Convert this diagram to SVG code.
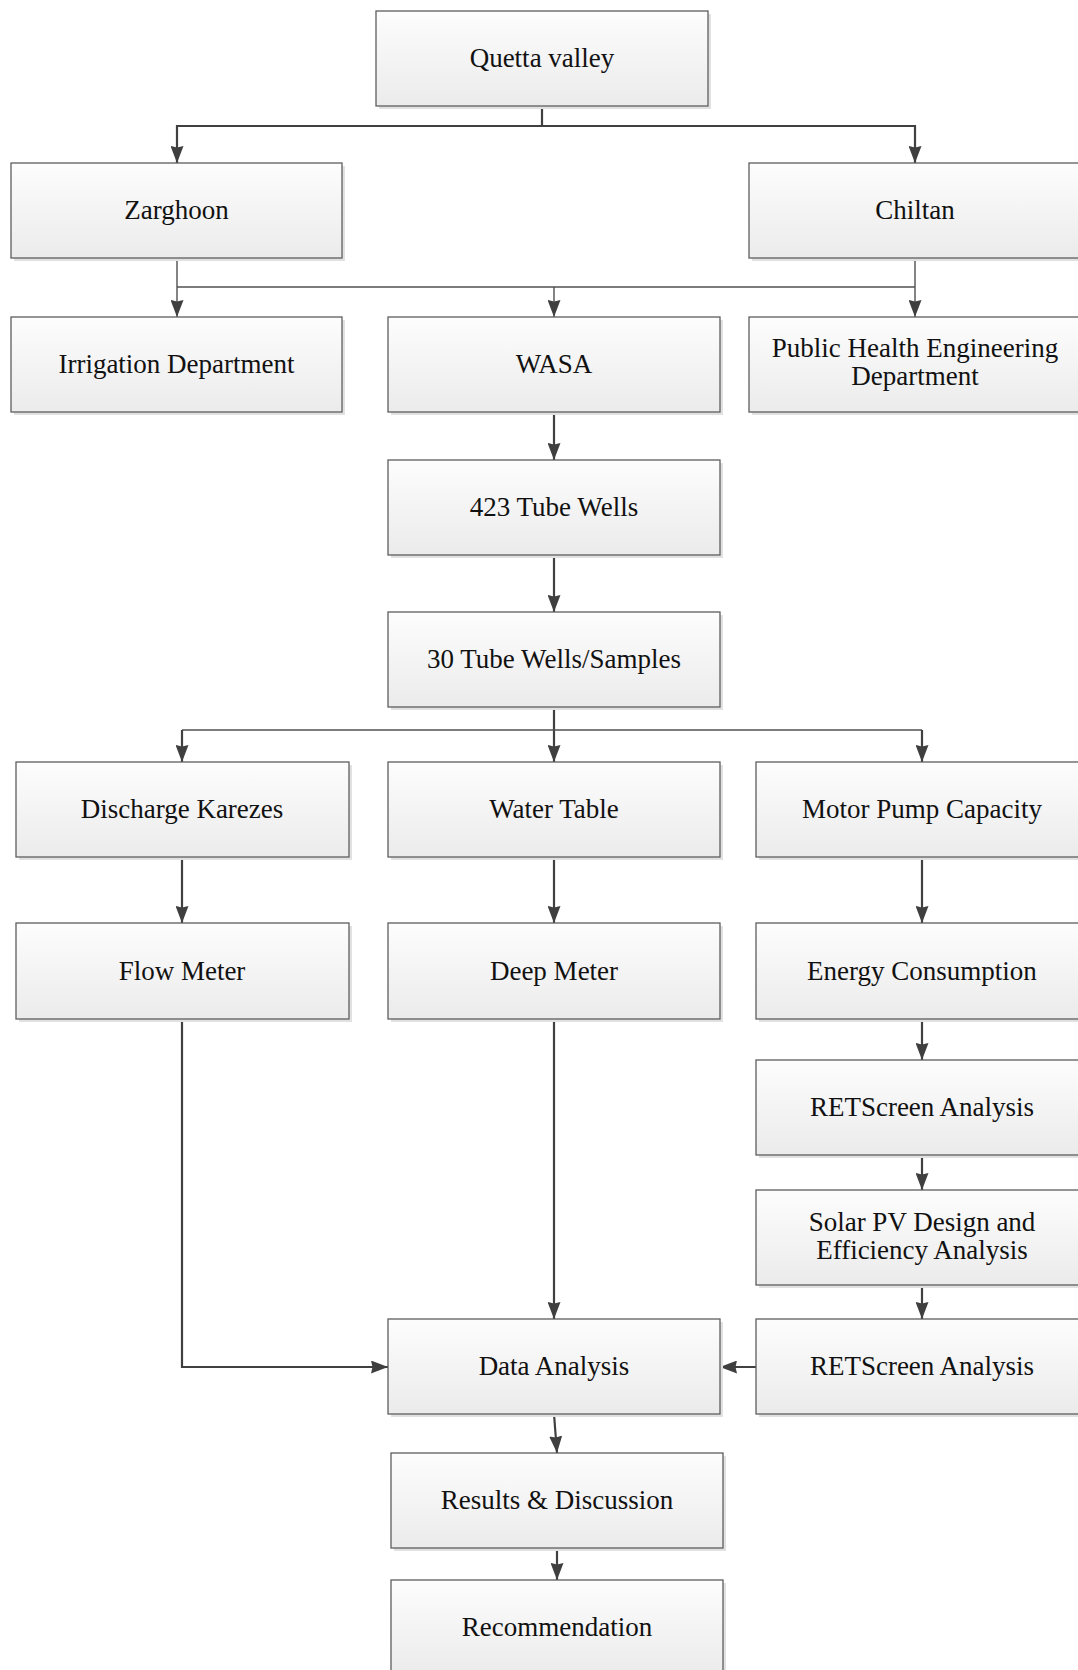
<svg xmlns="http://www.w3.org/2000/svg" width="1078" height="1670" viewBox="0 0 1078 1670">
<defs>
<linearGradient id="g" x1="0" y1="0" x2="0" y2="1">
<stop offset="0" stop-color="#fdfdfd"/>
<stop offset="1" stop-color="#ebebeb"/>
</linearGradient>
<marker id="ah" viewBox="0 0 17 13" refX="17" refY="6.5" markerWidth="17" markerHeight="13" markerUnits="userSpaceOnUse" orient="auto">
<path d="M0,0 L17,6.5 L0,13 L1.5,6.5 z" fill="#3f3f3f"/>
</marker>
</defs>
<style>
.sh{fill:#e1e1e1}
.bx{fill:url(#g);stroke:#5e5e5e;stroke-width:1.3}
.t{font-family:"Liberation Serif","Times New Roman",serif;font-size:27px;fill:#111;text-anchor:middle}
.c{fill:none;stroke:#404040;stroke-width:2.2}
.c2{fill:none;stroke:#505050;stroke-width:1.4}
.a{marker-end:url(#ah)}
</style>
<rect width="1078" height="1670" fill="#fff"/>

<g id="connectors">
<path class="c a" d="M542,106 V126 H177 V163"/>
<path class="c a" d="M542,126 H915 V163"/>
<path class="c2 a" d="M177,258 V317"/>
<path class="c2 a" d="M915,258 V317"/>
<path class="c2" d="M177,287 H915"/>
<path class="c2 a" d="M554,287 V317"/>
<path class="c a" d="M554,412 V460"/>
<path class="c a" d="M554,555 V612"/>
<path class="c a" d="M554,707 V762"/>
<path class="c2" d="M182,730 H922"/>
<path class="c a" d="M182,730 V762"/>
<path class="c a" d="M922,730 V762"/>
<path class="c a" d="M182,857 V923"/>
<path class="c a" d="M554,857 V923"/>
<path class="c a" d="M922,857 V923"/>
<path class="c a" d="M182,1019 V1367 H388"/>
<path class="c a" d="M554,1019 V1319"/>
<path class="c a" d="M922,1019 V1060"/>
<path class="c a" d="M922,1155 V1190"/>
<path class="c a" d="M922,1285 V1319"/>
<path class="c a" d="M756,1367 H720"/>
<path class="c a" d="M554,1414 L557,1453"/>
<path class="c a" d="M557,1549 V1580"/>
</g>

<g id="quetta"><rect class="sh" x="379" y="14" width="332" height="95"/><rect class="bx" x="376" y="11" width="332" height="95"/><text class="t" x="542" y="67">Quetta valley</text></g>
<g id="zarghoon"><rect class="sh" x="14" y="166" width="331" height="95"/><rect class="bx" x="11" y="163" width="331" height="95"/><text class="t" x="176.5" y="219">Zarghoon</text></g>
<g id="chiltan"><rect class="sh" x="752" y="166" width="332" height="95"/><rect class="bx" x="749" y="163" width="332" height="95"/><text class="t" x="915" y="219">Chiltan</text></g>
<g id="irrigation"><rect class="sh" x="14" y="320" width="331" height="95"/><rect class="bx" x="11" y="317" width="331" height="95"/><text class="t" x="176.5" y="373">Irrigation Department</text></g>
<g id="wasa"><rect class="sh" x="391" y="320" width="332" height="95"/><rect class="bx" x="388" y="317" width="332" height="95"/><text class="t" x="554" y="373">WASA</text></g>
<g id="phed"><rect class="sh" x="752" y="320" width="332" height="95"/><rect class="bx" x="749" y="317" width="332" height="95"/><text class="t" x="915" y="357">Public Health Engineering</text><text class="t" x="915" y="385">Department</text></g>
<g id="tw423"><rect class="sh" x="391" y="463" width="332" height="95"/><rect class="bx" x="388" y="460" width="332" height="95"/><text class="t" x="554" y="516">423 Tube Wells</text></g>
<g id="tw30"><rect class="sh" x="391" y="615" width="332" height="95"/><rect class="bx" x="388" y="612" width="332" height="95"/><text class="t" x="554" y="668">30 Tube Wells/Samples</text></g>
<g id="discharge"><rect class="sh" x="19" y="765" width="333" height="95"/><rect class="bx" x="16" y="762" width="333" height="95"/><text class="t" x="182" y="818">Discharge Karezes</text></g>
<g id="watertable"><rect class="sh" x="391" y="765" width="332" height="95"/><rect class="bx" x="388" y="762" width="332" height="95"/><text class="t" x="554" y="818">Water Table</text></g>
<g id="motorpump"><rect class="sh" x="759" y="765" width="332" height="95"/><rect class="bx" x="756" y="762" width="332" height="95"/><text class="t" x="922" y="818">Motor Pump Capacity</text></g>
<g id="flowmeter"><rect class="sh" x="19" y="926" width="333" height="96"/><rect class="bx" x="16" y="923" width="333" height="96"/><text class="t" x="182" y="980">Flow Meter</text></g>
<g id="deepmeter"><rect class="sh" x="391" y="926" width="332" height="96"/><rect class="bx" x="388" y="923" width="332" height="96"/><text class="t" x="554" y="980">Deep Meter</text></g>
<g id="energy"><rect class="sh" x="759" y="926" width="332" height="96"/><rect class="bx" x="756" y="923" width="332" height="96"/><text class="t" x="922" y="980">Energy Consumption</text></g>
<g id="retscreen1"><rect class="sh" x="759" y="1063" width="332" height="95"/><rect class="bx" x="756" y="1060" width="332" height="95"/><text class="t" x="922" y="1116">RETScreen Analysis</text></g>
<g id="solarpv"><rect class="sh" x="759" y="1193" width="332" height="95"/><rect class="bx" x="756" y="1190" width="332" height="95"/><text class="t" x="922" y="1231">Solar PV Design and</text><text class="t" x="922" y="1259">Efficiency Analysis</text></g>
<g id="retscreen2"><rect class="sh" x="759" y="1322" width="332" height="95"/><rect class="bx" x="756" y="1319" width="332" height="95"/><text class="t" x="922" y="1375">RETScreen Analysis</text></g>
<g id="dataanalysis"><rect class="sh" x="391" y="1322" width="332" height="95"/><rect class="bx" x="388" y="1319" width="332" height="95"/><text class="t" x="554" y="1375">Data Analysis</text></g>
<g id="results"><rect class="sh" x="394" y="1456" width="332" height="95"/><rect class="bx" x="391" y="1453" width="332" height="95"/><text class="t" x="557" y="1509">Results &amp; Discussion</text></g>
<g id="recommendation"><rect class="sh" x="394" y="1583" width="332" height="95"/><rect class="bx" x="391" y="1580" width="332" height="95"/><text class="t" x="557" y="1636">Recommendation</text></g>
</svg>
